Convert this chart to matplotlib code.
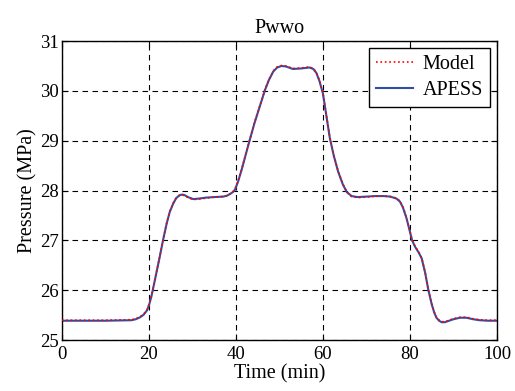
import numpy as np
import matplotlib.pyplot as plt

# --- data ---
time_min = [0, 10, 16, 17, 18, 18.8, 19.6, 20.1, 20.6, 21.5, 22.5, 23.3, 24.1,
            24.8, 25.6, 26.3, 27.1, 27.7, 28.2, 29, 30.2, 31.5, 33.2, 35, 37.1,
            38, 38.6, 39.3, 39.8, 40.5, 41.3, 42.2, 43.2, 44.3, 45.5, 46.7,
            47.6, 48.6, 49.5, 50.5, 51.5, 53.1, 55, 56.9, 57.8, 58.5, 59.2, 60,
            60.8, 61.6, 62.5, 63.5, 64.6, 65.5, 66.6, 68, 70, 72, 74, 75.5,
            76.9, 77.7, 78.4, 79.2, 79.9, 80.5, 81.2, 82, 82.7, 83.5, 84.2, 85,
            85.6, 86.1, 86.7, 87.3, 88, 89, 90, 91.5, 93, 94.5, 96, 98, 100]
apess = [25.39, 25.39, 25.40, 25.42, 25.46, 25.51, 25.60, 25.72, 25.88, 26.25,
         26.67, 27.02, 27.34, 27.57, 27.74, 27.85, 27.91, 27.92, 27.91, 27.87,
         27.83, 27.84, 27.86, 27.87, 27.88, 27.90, 27.93, 27.97, 28.02, 28.18,
         28.41, 28.70, 29.02, 29.36, 29.69, 30.02, 30.22, 30.39, 30.47, 30.50,
         30.49, 30.44, 30.45, 30.47, 30.44, 30.36, 30.20, 29.95, 29.50, 29.05,
         28.70, 28.38, 28.12, 27.97, 27.89, 27.87, 27.88, 27.89, 27.89, 27.88,
         27.84, 27.78, 27.66, 27.45, 27.21, 27.00, 26.87, 26.76, 26.64, 26.35,
         26.02, 25.72, 25.55, 25.45, 25.39, 25.36, 25.36, 25.39, 25.42, 25.45,
         25.45, 25.42, 25.40, 25.39, 25.39]
model = [25.40, 25.40, 25.41, 25.43, 25.47, 25.52, 25.61, 25.73, 25.89, 26.26,
         26.68, 27.03, 27.35, 27.58, 27.75, 27.86, 27.91, 27.91, 27.90, 27.86,
         27.82, 27.83, 27.85, 27.87, 27.88, 27.90, 27.93, 27.97, 28.03, 28.19,
         28.42, 28.71, 29.03, 29.37, 29.70, 30.03, 30.23, 30.40, 30.48, 30.51,
         30.50, 30.45, 30.46, 30.48, 30.45, 30.37, 30.21, 29.96, 29.51, 29.06,
         28.71, 28.39, 28.13, 27.97, 27.88, 27.86, 27.87, 27.89, 27.89, 27.88,
         27.85, 27.79, 27.67, 27.46, 27.22, 27.01, 26.88, 26.77, 26.65, 26.36,
         26.03, 25.73, 25.56, 25.46, 25.40, 25.37, 25.37, 25.40, 25.43, 25.46,
         25.46, 25.43, 25.41, 25.40, 25.40]

plt.rcParams['font.family'] = ['Liberation Serif', 'DejaVu Serif']

fig = plt.figure(figsize=(5.15, 3.91), dpi=100)
ax = fig.add_axes([0.120, 0.130, 0.845, 0.765])

ax.plot(time_min, model, color='red', linestyle=':', linewidth=1.2, label='Model', zorder=3)
ax.plot(time_min, apess, color='#2f4fa6', linestyle='-', linewidth=1.5, label='APESS', zorder=2)

ax.set_xlim(0, 100)
ax.set_ylim(25, 31)
ax.set_xticks([0, 20, 40, 60, 80, 100])
ax.set_yticks([25, 26, 27, 28, 29, 30, 31])

ax.grid(True, color='black', linestyle=(0, (5, 4)), linewidth=0.8)
ax.tick_params(direction='in', top=True, right=True, labelsize=13.5, length=4)
ax.tick_params(axis='x', pad=4)
ax.tick_params(axis='y', pad=2)
for s in ax.spines.values():
    s.set_linewidth(1.0)

ax.set_title('Pwwo', fontsize=14.5, pad=6)
ax.set_xlabel('Time (min)', fontsize=14.5, labelpad=1)
ax.set_ylabel('Pressure (MPa)', fontsize=14.5, labelpad=2)

leg = ax.legend(loc='upper right', fontsize=14.5, fancybox=False, framealpha=1,
                edgecolor='black', handlelength=1.85, borderpad=0.35,
                labelspacing=0.35, handletextpad=0.45, borderaxespad=0.35)
leg.get_frame().set_linewidth(1.0)

plt.savefig('out.png', dpi=100)
